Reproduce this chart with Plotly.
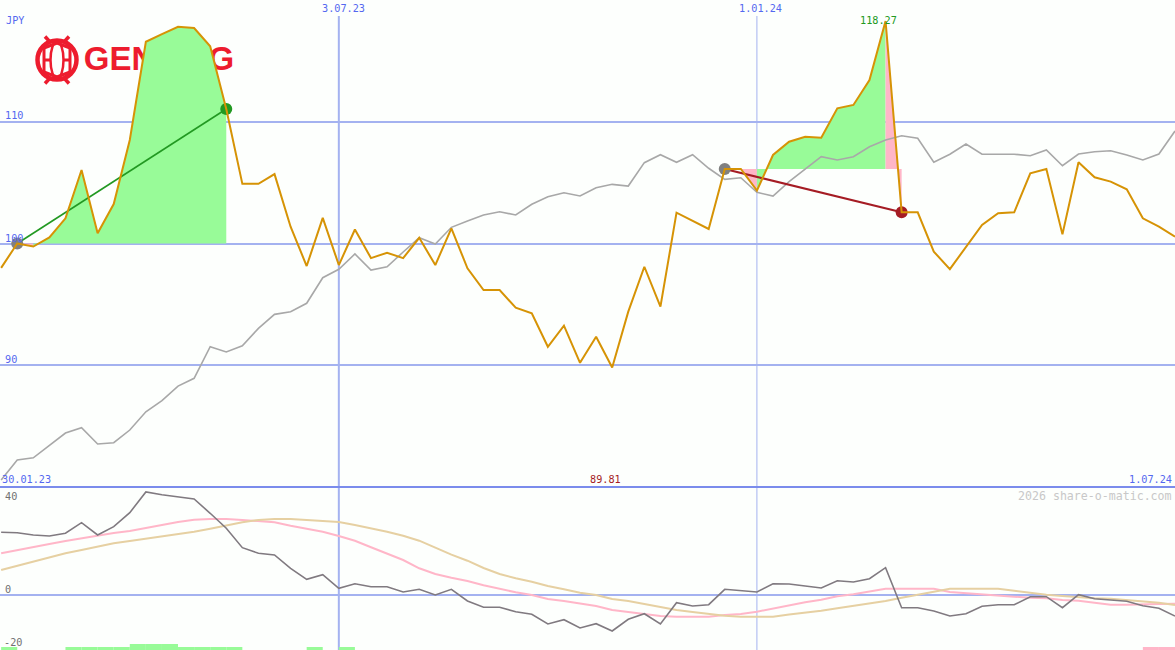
import pandas as pd
import plotly.graph_objects as go

W, H = 1175, 650
weeks = pd.date_range("2023-02-06", periods=74, freq="7D")

price = [98.0,100.0,99.75,100.5,102.07,106.04,100.84,103.24,108.5,116.57,117.2,117.8,117.7,116.2,111.05,104.9,104.9,105.7,101.38,98.15,
         102.1,98.23,101.15,98.8,99.24,98.8,100.47,98.23,101.25,97.96,96.18,96.18,94.73,94.27,91.52,93.25,90.2,92.34,89.81,94.4,
         98.09,94.81,102.53,101.86,101.19,106.12,106.12,104.34,107.27,108.36,108.77,108.69,111.1,111.38,113.43,118.27,102.56,102.56,99.33,97.9,
         99.74,101.52,102.48,102.56,105.76,106.12,100.75,106.67,105.44,105.08,104.45,102.07,101.38,100.56]
benchmark = [80.57,82.22,82.4,83.45,84.43,84.87,83.53,83.64,84.68,86.18,87.09,88.29,88.93,91.52,91.09,91.6,93.03,94.18,94.4,95.09,
             97.19,97.88,99.14,97.82,98.09,99.3,100.47,99.96,101.33,101.85,102.34,102.61,102.34,103.22,103.84,104.17,103.9,104.58,104.86,104.72,
             106.64,107.29,106.67,107.29,106.18,105.27,105.4,104.2,103.9,105.08,106.09,107.13,106.86,107.13,107.95,108.5,108.85,108.64,106.67,107.33,
             108.17,107.33,107.33,107.33,107.21,107.68,106.39,107.35,107.54,107.62,107.27,106.86,107.35,109.24]
oscillator = [23.66,23.5,22.64,22.27,23.29,27.29,22.64,25.78,31.06,38.87,37.85,37.1,36.23,30.83,25.17,17.85,15.74,15.1,10.08,5.93,
              7.66,2.53,4.26,3.13,3.13,1.13,2.15,0,2.15,-2.26,-4.64,-4.64,-6.3,-7.28,-10.94,-9.32,-12.45,-10.83,-13.59,-9.17,
              -7.06,-10.94,-2.91,-4.15,-3.66,2.15,1.62,1.13,4.26,4.15,3.4,2.64,5.4,4.91,6.15,10.3,-4.79,-4.79,-6.04,-7.93,
              -7.06,-4.26,-3.66,-3.66,-0.64,-0.64,-4.79,0.11,-1.4,-1.89,-2.38,-4.04,-5.02,-7.93]
fast_avg = [15.74,16.98,18.23,19.25,20.38,21.4,22.27,23.4,24.15,25.17,26.42,27.55,28.42,28.68,28.68,28.3,27.93,27.44,26.15,24.91,
            23.89,22.27,20.49,18.0,15.47,13.21,10.08,7.93,6.53,5.28,3.66,2.26,1.02,0,-1.51,-2.26,-3.13,-4.15,-5.66,-6.42,
            -6.91,-7.93,-8.19,-8.19,-8.19,-7.55,-7.17,-6.3,-5.09,-3.77,-2.75,-1.77,-0.49,0.26,1.25,2.38,2.38,2.38,2.38,1.13,
            0.64,0.11,-0.38,-0.64,-1.02,-1.25,-1.89,-2.15,-2.91,-3.66,-3.66,-3.66,-3.4,-3.3]
slow_avg = [9.43,11.06,12.57,14.23,15.74,16.98,18.23,19.51,20.38,21.25,22.0,22.91,23.89,25.02,26.3,27.44,28.3,28.68,28.68,28.3,
            27.93,27.55,26.42,25.17,23.89,22.38,20.49,17.85,15.21,12.94,10.19,7.93,6.3,5.02,3.4,2.15,0.87,0,-1.51,-2.26,
            -3.4,-4.42,-5.66,-6.42,-7.17,-7.81,-8.19,-8.3,-8.19,-7.36,-6.68,-5.93,-5.02,-4.15,-3.13,-2.26,-1.02,0.11,1.25,2.38,
            2.38,2.38,2.38,1.62,0.75,0.11,-0.38,-0.87,-1.25,-1.4,-1.89,-2.38,-2.91,-3.77]
green_bar_weeks = [0,4,5,6,7,8,9,10,11,12,13,14,19,21]
green_bar_sizes = [1.13,1.13,1.13,1.13,1.13,2.26,2.26,2.26,1.13,1.13,1.13,1.13,1.13,1.13]
pink_bar_weeks = [71,72]
pink_bar_sizes = [1.13,1.13]

GRID, DARKGRID, BLUE = "#a4b2f0", "#7b8cec", "#5468f0"
BG = "#fdfffd"
GREEN, PINK = "#98fb98", "#ffb6c8"
MAIN_RANGE = [80, 120]
LOW_RANGE = [-20.75, 40.75]
SPLIT = 163 / 650
FONT = "DejaVu Sans Mono"
WEEK_MS = 7 * 86400000

fig = go.Figure()


def px_y(p):
    return 1 - p / H


def poly(a, b, base, color):
    xs = list(weeks[a:b + 1]) + [weeks[b], weeks[a]]
    ys = price[a:b + 1] + [base, base]
    fig.add_trace(go.Scatter(x=xs, y=ys, mode="lines", fill="toself", fillcolor=color,
                             line=dict(width=0), hoverinfo="skip"))


# logo word, sits under the filled areas
fig.add_trace(go.Scatter(x=[weeks[5] + pd.Timedelta(days=1)], y=[114.95], mode="text", text=["GENTING"],
                         textposition="middle right", hoverinfo="skip",
                         textfont=dict(family="Liberation Sans", size=33, color="#ed1c2e", weight="bold")))

poly(1, 2, price[1], PINK)
poly(2, 14, price[1], GREEN)
poly(45, 47, price[45], PINK)
poly(47, 55, price[45], GREEN)
poly(55, 56, price[45], PINK)

fig.add_trace(go.Scatter(x=weeks, y=benchmark, mode="lines", line=dict(color="#a8a8a8", width=1.6)))

fig.add_trace(go.Scatter(x=[weeks[1], weeks[14]], y=[price[1], price[14]], mode="lines",
                         line=dict(color="#229922", width=1.6)))
fig.add_trace(go.Scatter(x=[weeks[45], weeks[56]], y=[price[45], price[56]], mode="lines",
                         line=dict(color="#a51c24", width=2)))
fig.add_trace(go.Scatter(x=[weeks[1], weeks[45]], y=[price[1], price[45]], mode="markers",
                         marker=dict(color="#808080", size=12)))
fig.add_trace(go.Scatter(x=[weeks[14]], y=[price[14]], mode="markers", marker=dict(color="#229922", size=12)))
fig.add_trace(go.Scatter(x=[weeks[56]], y=[price[56]], mode="markers", marker=dict(color="#a51c24", size=12)))
fig.add_trace(go.Scatter(x=weeks, y=price, mode="lines", line=dict(color="#d69305", width=2)))

half = pd.Timedelta(days=3.5)
fig.add_trace(go.Bar(x=[weeks[i] + half for i in green_bar_weeks], y=green_bar_sizes, base=LOW_RANGE[0],
                     width=WEEK_MS, marker=dict(color=GREEN, line=dict(width=0)), xaxis="x", yaxis="y2"))
fig.add_trace(go.Bar(x=[weeks[i] + half for i in pink_bar_weeks], y=pink_bar_sizes, base=LOW_RANGE[0],
                     width=WEEK_MS, marker=dict(color=PINK, line=dict(width=0)), xaxis="x", yaxis="y2"))
fig.add_trace(go.Scatter(x=weeks, y=fast_avg, mode="lines", yaxis="y2", line=dict(color="#ffb6c8", width=2)))
fig.add_trace(go.Scatter(x=weeks, y=slow_avg, mode="lines", yaxis="y2", line=dict(color="#e6d0a2", width=2)))
fig.add_trace(go.Scatter(x=weeks, y=oscillator, mode="lines", yaxis="y2", line=dict(color="#807a80", width=1.6)))

shapes = [
    dict(type="line", xref="x", yref="paper", x0="2023-07-03", x1="2023-07-03", y0=0, y1=px_y(16),
         line=dict(color=GRID, width=2), layer="below"),
    dict(type="line", xref="x", yref="paper", x0="2024-01-01", x1="2024-01-01", y0=0, y1=px_y(16),
         line=dict(color=GRID, width=1), layer="below"),
    dict(type="line", xref="paper", yref="paper", x0=0, x1=1, y0=SPLIT, y1=SPLIT,
         line=dict(color=DARKGRID, width=2), layer="below"),
]
# logo emblem
cx, cy = 57, 60
red = "#ed1c2e"


def circ(rx, ry, **kw):
    return dict(type="circle", xref="paper", yref="paper", x0=(cx - rx) / W, x1=(cx + rx) / W,
                y0=px_y(cy + ry), y1=px_y(cy - ry), layer="below", **kw)


def seg(x0, y0, x1, y1, width):
    return dict(type="line", xref="paper", yref="paper", x0=x0 / W, x1=x1 / W, y0=px_y(y0), y1=px_y(y1),
                line=dict(color=red, width=width), layer="below")


shapes += [
    circ(19.5, 19.5, line=dict(color=red, width=4.5), fillcolor=BG),
    circ(6.5, 18.5, line=dict(color=red, width=2.5)),
    seg(cx - 13, cy - 12, cx - 13, cy + 12, 3),
    seg(cx + 13, cy - 12, cx + 13, cy + 12, 3),
    seg(cx - 13, cy, cx - 6, cy, 3),
    seg(cx + 6, cy, cx + 13, cy, 3),
    seg(cx - 13, cy - 12, cx, cy - 17, 3),
    seg(cx + 13, cy - 12, cx, cy - 17, 3),
    seg(cx - 13, cy + 12, cx, cy + 17, 3),
    seg(cx + 13, cy + 12, cx, cy + 17, 3),
    seg(cx - 12, cy - 23.5, cx - 7, cy - 18, 3.5),
    seg(cx + 12, cy - 23.5, cx + 7, cy - 18, 3.5),
    seg(cx - 12, cy + 23.5, cx - 7, cy + 18, 3.5),
    seg(cx + 12, cy + 23.5, cx + 7, cy + 18, 3.5),
]


def label(x, y, text, color=BLUE, anchor="left", size=10.2):
    fig.add_annotation(xref="paper", yref="paper", x=x / W, y=px_y(y), text=text, showarrow=False,
                       xanchor=anchor, yanchor="middle", font=dict(family=FONT, size=size, color=color),
                       borderpad=0, borderwidth=0)


label(6, 21, "JPY")
label(5, 116, "110")
label(5, 238, "100")
label(5, 359, "90")
label(343, 8, "3.07.23", anchor="center")
label(760, 8, "1.01.24", anchor="center")
label(2, 479, "30.01.23")
label(1172, 479, "1.07.24", anchor="right")
label(605, 479, "89.81", color="#a51c24", anchor="center")
label(878, 21, "118.27", color="#229922", anchor="center")
label(5, 496, "40", color="#707070")
label(5, 589, "0", color="#707070")
label(4, 642, "-20", color="#707070")
label(1172, 496, "2026 share-o-matic.com", color="#c8c8c8", anchor="right", size=11.6)

fig.update_layout(
    width=W, height=H, margin=dict(l=0, r=0, t=0, b=0), autosize=False,
    paper_bgcolor=BG, plot_bgcolor=BG, showlegend=False, barmode="overlay", hovermode=False,
    shapes=shapes,
    xaxis=dict(range=["2023-02-05 12:00", "2024-07-01"], type="date", showgrid=False, showticklabels=False,
               zeroline=False, ticks="", anchor="y2"),
    yaxis=dict(domain=[SPLIT, 1], range=MAIN_RANGE, tickvals=[90, 100, 110], gridcolor=GRID, gridwidth=2,
               showticklabels=False, zeroline=False, ticks=""),
    yaxis2=dict(domain=[0, SPLIT], range=LOW_RANGE, tickvals=[0], gridcolor=GRID, gridwidth=2,
                showticklabels=False, zeroline=False, ticks=""),
)
fig.write_html("out.html", config=dict(displayModeBar=False),
               post_script="document.body.style.margin='0';document.body.style.background='" + BG + "';")
